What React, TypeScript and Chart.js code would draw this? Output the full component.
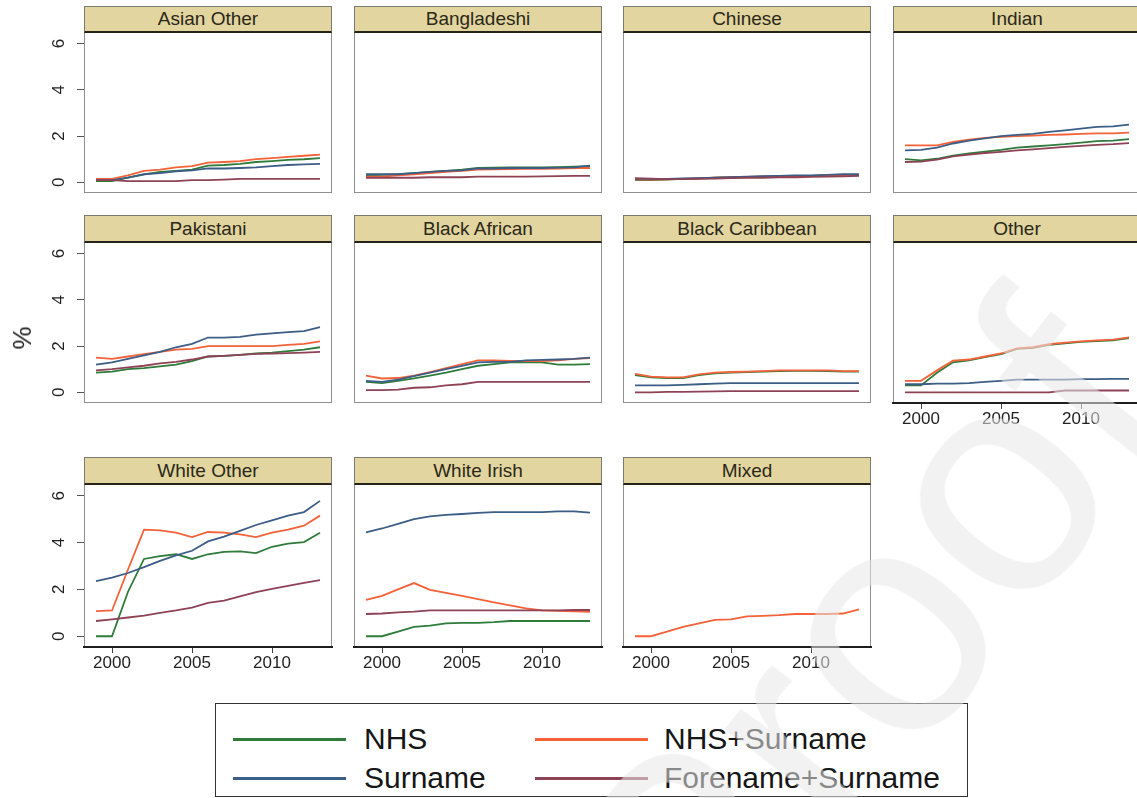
import React, { useEffect, useRef } from "react";
import { Chart, registerables } from "chart.js";

Chart.register(...registerables);
Chart.defaults.font.family = "'Liberation Sans', Arial, Helvetica, sans-serif";

// ---- data -------------------------------------------------------------
const years = [1999, 2000, 2001, 2002, 2003, 2004, 2005, 2006, 2007, 2008, 2009, 2010, 2011, 2012, 2013];
const seriesNames = ["NHS", "NHS+Surname", "Surname", "Forename+Surname"];
const seriesColors = ["#2e7b3c", "#f36238", "#3c5d85", "#8e4256"];
const xTickValues = [2000, 2005, 2010];
const yTickValues = [0, 2, 4, 6];

const asianOtherNhs = [0.05, 0.05, 0.2, 0.35, 0.45, 0.5, 0.55, 0.72, 0.75, 0.8, 0.88, 0.92, 0.97, 1.0, 1.05];
const asianOtherNhsSurname = [0.15, 0.15, 0.3, 0.5, 0.55, 0.65, 0.7, 0.85, 0.88, 0.92, 1.0, 1.05, 1.1, 1.15, 1.2];
const asianOtherSurname = [0.1, 0.1, 0.2, 0.35, 0.4, 0.48, 0.52, 0.6, 0.6, 0.62, 0.65, 0.7, 0.75, 0.78, 0.8];
const asianOtherForeSurname = [0.1, 0.1, 0.05, 0.05, 0.05, 0.05, 0.1, 0.1, 0.12, 0.15, 0.15, 0.15, 0.15, 0.15, 0.15];

const bangladeshiNhs = [0.3, 0.32, 0.35, 0.4, 0.45, 0.5, 0.55, 0.62, 0.64, 0.65, 0.65, 0.65, 0.66, 0.68, 0.7];
const bangladeshiNhsSurname = [0.25, 0.25, 0.3, 0.35, 0.4, 0.45, 0.5, 0.55, 0.56, 0.57, 0.58, 0.58, 0.6, 0.62, 0.62];
const bangladeshiSurname = [0.35, 0.35, 0.35, 0.4, 0.45, 0.5, 0.52, 0.6, 0.6, 0.62, 0.62, 0.62, 0.64, 0.65, 0.72];
const bangladeshiForeSurname = [0.2, 0.2, 0.2, 0.2, 0.22, 0.22, 0.22, 0.25, 0.25, 0.25, 0.25, 0.26, 0.27, 0.28, 0.28];

const chineseNhs = [0.1, 0.1, 0.12, 0.15, 0.17, 0.2, 0.22, 0.24, 0.25, 0.26, 0.27, 0.28, 0.3, 0.3, 0.32];
const chineseNhsSurname = [0.12, 0.12, 0.13, 0.15, 0.17, 0.2, 0.22, 0.24, 0.25, 0.26, 0.27, 0.28, 0.29, 0.3, 0.32];
const chineseSurname = [0.15, 0.15, 0.15, 0.17, 0.18, 0.2, 0.22, 0.25, 0.27, 0.28, 0.3, 0.3, 0.32, 0.35, 0.35];
const chineseForeSurname = [0.18, 0.16, 0.14, 0.14, 0.15, 0.16, 0.18, 0.2, 0.2, 0.22, 0.22, 0.24, 0.25, 0.26, 0.28];

const indianNhs = [1.0, 0.95, 1.02, 1.15, 1.25, 1.33, 1.4, 1.5, 1.55, 1.6, 1.65, 1.72, 1.78, 1.8, 1.87];
const indianNhsSurname = [1.6, 1.6, 1.6, 1.75, 1.85, 1.92, 1.97, 2.0, 2.02, 2.05, 2.07, 2.1, 2.12, 2.12, 2.15];
const indianSurname = [1.38, 1.4, 1.5, 1.68, 1.8, 1.9, 2.0, 2.05, 2.1, 2.18, 2.25, 2.32, 2.4, 2.42, 2.5];
const indianForeSurname = [0.88, 0.9, 0.98, 1.12, 1.2, 1.27, 1.32, 1.38, 1.43, 1.48, 1.53, 1.58, 1.62, 1.65, 1.7];

const pakistaniNhs = [0.85, 0.9, 1.0, 1.05, 1.12, 1.2, 1.35, 1.55, 1.58, 1.62, 1.68, 1.72, 1.78, 1.85, 1.95];
const pakistaniNhsSurname = [1.5, 1.45, 1.55, 1.65, 1.75, 1.85, 1.88, 2.0, 2.0, 2.0, 2.0, 2.0, 2.05, 2.1, 2.2];
const pakistaniSurname = [1.2, 1.3, 1.45, 1.6, 1.75, 1.95, 2.1, 2.37, 2.37, 2.4, 2.5, 2.55, 2.6, 2.65, 2.82];
const pakistaniForeSurname = [0.95, 1.0, 1.08, 1.15, 1.25, 1.32, 1.42, 1.55, 1.58, 1.62, 1.66, 1.68, 1.7, 1.72, 1.75];

const blackAfricanNhs = [0.45, 0.4, 0.5, 0.6, 0.72, 0.85, 1.0, 1.15, 1.22, 1.3, 1.3, 1.3, 1.2, 1.2, 1.22];
const blackAfricanNhsSurname = [0.72, 0.6, 0.62, 0.72, 0.88, 1.05, 1.22, 1.38, 1.38, 1.36, 1.35, 1.35, 1.38, 1.45, 1.48];
const blackAfricanSurname = [0.5, 0.45, 0.55, 0.7, 0.85, 1.0, 1.15, 1.3, 1.32, 1.32, 1.38, 1.4, 1.42, 1.45, 1.5];
const blackAfricanForeSurname = [0.1, 0.1, 0.12, 0.2, 0.22, 0.3, 0.35, 0.45, 0.45, 0.45, 0.45, 0.45, 0.45, 0.45, 0.45];

const blackCaribbeanNhs = [0.75, 0.65, 0.62, 0.62, 0.75, 0.82, 0.85, 0.88, 0.9, 0.92, 0.93, 0.93, 0.92, 0.9, 0.9];
const blackCaribbeanNhsSurname = [0.8, 0.68, 0.65, 0.65, 0.78, 0.85, 0.88, 0.9, 0.92, 0.95, 0.95, 0.95, 0.95, 0.92, 0.92];
const blackCaribbeanSurname = [0.3, 0.3, 0.3, 0.32, 0.35, 0.38, 0.4, 0.4, 0.4, 0.4, 0.4, 0.4, 0.4, 0.4, 0.4];
const blackCaribbeanForeSurname = [0.0, 0.0, 0.02, 0.02, 0.03, 0.04, 0.05, 0.05, 0.05, 0.05, 0.05, 0.05, 0.05, 0.05, 0.05];

const otherNhs = [0.3, 0.3, 0.85, 1.3, 1.38, 1.52, 1.65, 1.88, 1.92, 2.05, 2.12, 2.18, 2.22, 2.25, 2.35];
const otherNhsSurname = [0.5, 0.5, 0.95, 1.37, 1.42, 1.55, 1.68, 1.9, 1.95, 2.08, 2.15, 2.2, 2.25, 2.28, 2.38];
const otherSurname = [0.35, 0.35, 0.38, 0.38, 0.4, 0.45, 0.5, 0.55, 0.55, 0.55, 0.55, 0.57, 0.57, 0.58, 0.58];
const otherForeSurname = [0.0, 0.0, 0.0, 0.0, 0.0, 0.0, 0.0, 0.0, 0.0, 0.0, 0.08, 0.08, 0.08, 0.08, 0.08];

const whiteOtherNhs = [0.0, 0.0, 1.9, 3.3, 3.42, 3.5, 3.3, 3.5, 3.6, 3.62, 3.55, 3.82, 3.95, 4.02, 4.42];
const whiteOtherNhsSurname = [1.07, 1.1, 2.85, 4.55, 4.52, 4.42, 4.23, 4.45, 4.42, 4.35, 4.23, 4.42, 4.55, 4.72, 5.15];
const whiteOtherSurname = [2.35, 2.5, 2.7, 2.95, 3.22, 3.45, 3.65, 4.05, 4.25, 4.5, 4.75, 4.95, 5.15, 5.3, 5.78];
const whiteOtherForeSurname = [0.65, 0.72, 0.8, 0.88, 1.0, 1.1, 1.22, 1.42, 1.52, 1.7, 1.88, 2.02, 2.15, 2.28, 2.4];

const whiteIrishNhs = [0.0, 0.0, 0.2, 0.4, 0.45, 0.55, 0.57, 0.57, 0.6, 0.65, 0.65, 0.65, 0.65, 0.65, 0.65];
const whiteIrishNhsSurname = [1.55, 1.72, 2.0, 2.27, 1.98, 1.85, 1.72, 1.58, 1.45, 1.32, 1.19, 1.1, 1.08, 1.06, 1.04];
const whiteIrishSurname = [4.43, 4.6, 4.8, 5.0, 5.12, 5.18, 5.22, 5.27, 5.3, 5.3, 5.3, 5.3, 5.33, 5.33, 5.28];
const whiteIrishForeSurname = [0.95, 0.97, 1.02, 1.05, 1.1, 1.1, 1.1, 1.1, 1.1, 1.1, 1.1, 1.1, 1.1, 1.12, 1.12];

const mixedNhsSurname = [0.0, 0.0, 0.2, 0.4, 0.55, 0.7, 0.72, 0.85, 0.87, 0.9, 0.95, 0.95, 0.95, 0.97, 1.15];

// ---- layout -----------------------------------------------------------
const COL_LEFT = [84, 354, 623, 893];
const PLOT_W = 248;
const HEADER_TOP = [6, 215, 457];
const PLOT_TOP = [32, 242, 484];
const PLOT_BOTTOM = [193, 403, 647];
const PAD_L = 60;
const PAD_T = 12;
const PAD_R = 12;
const PAD_B = 40;
const Y_AXIS_W = 40;
const X_AXIS_H = 32;
const X_MIN = 1998.25;
const X_MAX = 2013.75;
const Y_MIN = -0.46;
const Y_MAX = 6.5;

type Series = (number[] | null)[];

const panels: { title: string; row: number; col: number; series: Series; showX: boolean }[] = [
  { title: "Asian Other", row: 0, col: 0, showX: false, series: [asianOtherNhs, asianOtherNhsSurname, asianOtherSurname, asianOtherForeSurname] },
  { title: "Bangladeshi", row: 0, col: 1, showX: false, series: [bangladeshiNhs, bangladeshiNhsSurname, bangladeshiSurname, bangladeshiForeSurname] },
  { title: "Chinese", row: 0, col: 2, showX: false, series: [chineseNhs, chineseNhsSurname, chineseSurname, chineseForeSurname] },
  { title: "Indian", row: 0, col: 3, showX: false, series: [indianNhs, indianNhsSurname, indianSurname, indianForeSurname] },
  { title: "Pakistani", row: 1, col: 0, showX: false, series: [pakistaniNhs, pakistaniNhsSurname, pakistaniSurname, pakistaniForeSurname] },
  { title: "Black African", row: 1, col: 1, showX: false, series: [blackAfricanNhs, blackAfricanNhsSurname, blackAfricanSurname, blackAfricanForeSurname] },
  { title: "Black Caribbean", row: 1, col: 2, showX: false, series: [blackCaribbeanNhs, blackCaribbeanNhsSurname, blackCaribbeanSurname, blackCaribbeanForeSurname] },
  { title: "Other", row: 1, col: 3, showX: true, series: [otherNhs, otherNhsSurname, otherSurname, otherForeSurname] },
  { title: "White Other", row: 2, col: 0, showX: true, series: [whiteOtherNhs, whiteOtherNhsSurname, whiteOtherSurname, whiteOtherForeSurname] },
  { title: "White Irish", row: 2, col: 1, showX: true, series: [whiteIrishNhs, whiteIrishNhsSurname, whiteIrishSurname, whiteIrishForeSurname] },
  { title: "Mixed", row: 2, col: 2, showX: true, series: [null, mixedNhsSurname, null, null] },
];

// grey box around each plot region
const framePlugin = {
  id: "panelFrame",
  beforeDraw(chart: any) {
    const { ctx, chartArea: a } = chart;
    ctx.save();
    ctx.strokeStyle = "#8f8f8f";
    ctx.lineWidth = 1;
    ctx.strokeRect(a.left + 0.5, a.top + 0.5, a.right - a.left - 1, a.bottom - a.top - 1);
    ctx.restore();
  },
};

// fixed axis thickness, no extra edge padding from the tick labels
function fixScale(size: number) {
  return (scale: any) => {
    scale.paddingLeft = 0;
    scale.paddingRight = 0;
    scale.paddingTop = 0;
    scale.paddingBottom = 0;
    const s = scale.options.display ? size : 0;
    if (scale.isHorizontal()) scale.height = s;
    else scale.width = s;
  };
}

function Panel({ title, row, col, series, showX }: { title: string; row: number; col: number; series: Series; showX: boolean }) {
  const ref = useRef<HTMLCanvasElement>(null);
  const showY = col === 0;
  const L = COL_LEFT[col];
  const T = PLOT_TOP[row];
  const H = PLOT_BOTTOM[row] - T;
  const cw = PAD_L + PLOT_W + PAD_R;
  const ch = PAD_T + H + PAD_B;

  useEffect(() => {
    if (!ref.current) return;
    const datasets: any[] = [];
    series.forEach((vals, i) => {
      if (!vals) return;
      datasets.push({
        label: seriesNames[i],
        data: years.map((yr, k) => ({ x: yr, y: vals[k] })),
        borderColor: seriesColors[i],
        backgroundColor: seriesColors[i],
        borderWidth: 1.8,
        pointRadius: 0,
        tension: 0,
        fill: false,
        order: 3 - i,
      });
    });
    const chart = new Chart(ref.current, {
      type: "line",
      data: { datasets },
      options: {
        responsive: false,
        animation: false,
        events: [],
        layout: {
          autoPadding: false,
          padding: {
            left: showY ? PAD_L - Y_AXIS_W : PAD_L,
            top: PAD_T,
            right: PAD_R,
            bottom: showX ? PAD_B - X_AXIS_H : PAD_B,
          },
        },
        plugins: { legend: { display: false }, tooltip: { enabled: false } },
        scales: {
          x: {
            type: "linear",
            min: X_MIN,
            max: X_MAX,
            display: showX,
            afterBuildTicks: (s: any) => {
              s.ticks = xTickValues.map((v) => ({ value: v }));
            },
            afterFit: fixScale(X_AXIS_H),
            grid: { display: true, drawOnChartArea: false, drawTicks: true, tickLength: 6, color: "#444", lineWidth: 1 },
            border: { display: true, color: "#1e1e1e", width: 2 },
            ticks: { padding: 0, color: "#222", font: { size: 17 }, maxRotation: 0, minRotation: 0, callback: (v: any) => String(v) },
          },
          y: {
            type: "linear",
            min: Y_MIN,
            max: Y_MAX,
            display: showY,
            afterBuildTicks: (s: any) => {
              s.ticks = yTickValues.map((v) => ({ value: v }));
            },
            afterFit: fixScale(Y_AXIS_W),
            grid: { display: true, drawOnChartArea: false, drawTicks: true, tickLength: 7, color: "#555", lineWidth: 1 },
            border: { display: false },
            ticks: { padding: 13, color: "#222", font: { size: 17 }, minRotation: 90, maxRotation: 90, crossAlign: "center", callback: (v: any) => String(v) },
          },
        },
      } as any,
      plugins: [framePlugin],
    });
    return () => chart.destroy();
  }, []);

  const headerTop = HEADER_TOP[row];
  return (
    <>
      <canvas
        ref={ref}
        width={cw}
        height={ch}
        style={{ position: "absolute", left: L - PAD_L, top: T - PAD_T, width: cw, height: ch }}
      />
      <div
        style={{
          position: "absolute",
          left: L,
          top: headerTop,
          width: PLOT_W,
          height: T - headerTop + 1,
          boxSizing: "border-box",
          background: "#e2d5a0",
          border: "1px solid #7a7a70",
          borderBottom: "2px solid #262418",
          textAlign: "center",
          fontFamily: "'Liberation Sans', Arial, sans-serif",
          fontSize: 19,
          lineHeight: `${T - headerTop - 2}px`,
          color: "#2b2818",
          whiteSpace: "nowrap",
        }}
      >
        {title}
      </div>
    </>
  );
}

const legendRows = [
  [0, 1],
  [2, 3],
];
const LEGEND_LINE_Y = [739, 778];

export default function App() {
  return (
    <div
      style={{
        position: "absolute",
        left: 0,
        top: 0,
        width: 1137,
        height: 798,
        overflow: "hidden",
        background: "#fff",
        fontFamily: "'Liberation Sans', Arial, sans-serif",
      }}
    >
      {panels.map((p) => (
        <Panel key={p.title} {...p} />
      ))}

      <div
        style={{
          position: "absolute",
          left: 22,
          top: 338,
          transform: "translate(-50%, -50%) rotate(-90deg)",
          fontSize: 26,
          color: "#222",
          lineHeight: 1,
        }}
      >
        %
      </div>

      <div
        style={{
          position: "absolute",
          left: 215,
          top: 703,
          width: 753,
          height: 94,
          boxSizing: "border-box",
          border: "1px solid #333",
          background: "#fff",
        }}
      />
      {legendRows.map((row, r) =>
        row.map((si, c) => {
          const lineLeft = c === 0 ? 233 : 535;
          const textLeft = c === 0 ? 364 : 664;
          const y = LEGEND_LINE_Y[r];
          return (
            <React.Fragment key={si}>
              <div
                style={{
                  position: "absolute",
                  left: lineLeft,
                  top: y - 1.5,
                  width: 113,
                  height: 3,
                  background: seriesColors[si],
                }}
              />
              <div
                style={{
                  position: "absolute",
                  left: textLeft,
                  top: y - 18,
                  height: 36,
                  lineHeight: "36px",
                  fontSize: 30,
                  color: "#161616",
                  whiteSpace: "nowrap",
                }}
              >
                {seriesNames[si]}
              </div>
            </React.Fragment>
          );
        })
      )}

      <div
        style={{
          position: "absolute",
          left: 861,
          top: 649,
          transform: "translate(-50%, -50%) rotate(-52deg)",
          fontSize: 320,
          lineHeight: 1,
          color: "rgba(232,232,232,0.55)",
          whiteSpace: "nowrap",
          pointerEvents: "none",
          zIndex: 10,
        }}
      >
        Proof
      </div>
    </div>
  );
}
